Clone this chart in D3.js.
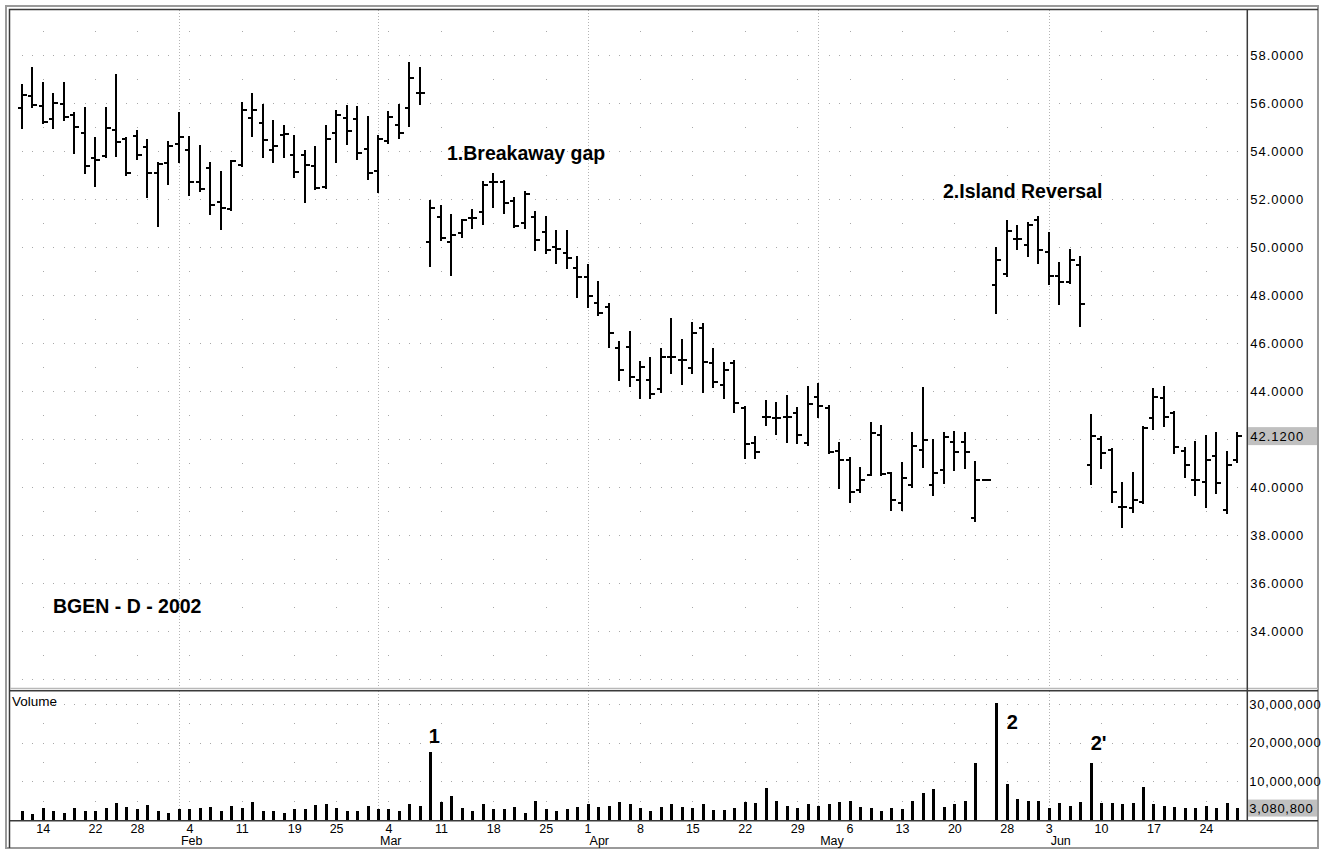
<!DOCTYPE html>
<html><head><meta charset="utf-8">
<script src="https://cdn.jsdelivr.net/npm/d3@7/dist/d3.min.js"></script>
<style>
body{margin:0;background:#fff}
svg{display:block}
text{font-family:"Liberation Sans",Arial,sans-serif;fill:#000}
</style>
</head><body>
<svg id="chart" width="1324" height="850"></svg>
<script>
// ---------- DATA ----------
const dates = [
"01-10","01-11","01-14","01-15","01-16","01-17","01-18","01-22","01-23","01-24","01-25","01-28","01-29","01-30","01-31",
"02-01","02-04","02-05","02-06","02-07","02-08","02-11","02-12","02-13","02-14","02-15","02-19","02-20","02-21","02-22","02-25","02-26","02-27","02-28",
"03-01","03-04","03-05","03-06","03-07","03-08","03-11","03-12","03-13","03-14","03-15","03-18","03-19","03-20","03-21","03-22","03-25","03-26","03-27","03-28",
"04-01","04-02","04-03","04-04","04-05","04-08","04-09","04-10","04-11","04-12","04-15","04-16","04-17","04-18","04-19","04-22","04-23","04-24","04-25","04-26","04-29","04-30",
"05-01","05-02","05-03","05-06","05-07","05-08","05-09","05-10","05-13","05-14","05-15","05-16","05-17","05-20","05-21","05-22","05-23","05-24","05-28","05-29","05-30","05-31",
"06-03","06-04","06-05","06-06","06-07","06-10","06-11","06-12","06-13","06-14","06-17","06-18","06-19","06-20","06-21","06-24","06-25","06-26","06-27"];

const open = [55.78,56.29,55.88,55.32,55.96,55.50,54.76,53.69,53.79,54.88,54.49,54.63,54.18,53.07,53.51,
54.29,54.04,52.72,53.31,51.86,51.57,53.42,55.36,55.15,54.04,54.67,53.83,53.83,53.39,52.51,54.74,55.36,55.32,54.07,
53.18,54.43,55.08,55.78,56.40,50.22,51.24,50.22,50.57,51.20,51.47,52.69,52.72,51.90,51.00,51.26,50.64,50.01,49.76,49.11,
48.76,47.68,47.51,45.78,45.85,44.46,44.46,44.07,45.43,45.29,44.94,46.61,45.18,44.25,45.15,43.30,41.85,42.93,42.86,42.93,43.07,41.82,
43.76,43.28,41.50,41.12,39.87,40.50,42.17,40.57,39.32,40.08,41.54,40.08,40.71,41.89,41.89,38.69,40.29,48.42,48.88,50.32,50.08,51.12,
49.81,48.79,48.56,49.25,40.92,42.00,41.54,39.18,39.11,39.39,42.86,43.69,43.10,41.50,40.29,40.22,41.29,39.04,41.12];

const high = [56.75,57.44,56.82,56.38,56.82,55.57,55.78,54.53,55.78,57.17,54.53,54.85,54.46,53.49,54.39,
55.60,54.60,54.21,53.49,53.11,53.60,55.99,56.36,55.92,55.26,55.04,54.63,54.01,54.18,55.04,55.65,55.88,55.82,55.43,
54.63,55.64,55.92,57.68,57.44,51.92,51.71,51.33,51.13,51.54,52.72,53.04,52.76,52.03,52.28,51.47,51.26,50.68,50.67,49.57,
49.25,48.56,47.63,46.06,46.47,45.22,45.36,45.74,46.99,46.13,46.85,46.79,45.74,45.15,45.26,43.32,42.07,43.60,43.51,43.79,43.28,44.18,
44.29,43.38,41.85,41.19,40.78,42.65,42.54,40.60,40.99,42.24,44.11,41.96,42.26,42.31,42.26,41.06,40.29,49.95,51.10,50.88,51.01,51.26,
50.57,49.35,49.88,49.60,43.00,42.07,41.57,40.15,40.57,42.51,44.07,44.18,43.14,41.61,41.89,42.13,42.24,41.47,42.24];

const low = [54.94,55.85,55.15,54.94,55.29,53.90,53.10,52.56,53.76,53.81,53.00,53.65,52.07,50.88,52.63,
53.53,52.17,52.35,51.38,50.76,51.54,53.38,54.63,53.76,53.53,53.76,52.93,51.89,52.40,52.47,53.53,54.29,53.65,52.83,
52.28,54.35,54.53,55.06,55.96,49.22,50.29,48.83,50.40,50.78,50.96,51.65,51.40,50.85,50.78,49.87,49.76,49.32,49.11,47.93,
47.49,47.17,45.85,44.46,44.21,43.69,43.69,43.97,44.76,44.28,44.76,43.97,44.18,43.69,43.14,41.19,41.19,42.58,42.21,41.89,41.85,41.75,
42.93,41.43,39.94,39.39,39.81,40.50,40.50,39.04,39.04,40.01,40.85,39.67,40.15,40.71,40.78,38.60,40.29,47.24,48.79,49.90,49.63,49.35,
48.46,47.63,48.49,46.71,40.13,40.78,39.39,38.35,38.97,39.32,42.40,42.54,41.40,40.43,39.67,39.18,39.74,38.93,41.06];

const close = [56.33,55.90,55.22,56.01,55.43,54.99,53.39,53.63,54.94,54.39,53.10,53.83,53.07,53.46,54.22,
54.60,52.72,52.40,51.75,51.61,53.60,55.71,55.71,54.46,54.21,54.71,53.14,53.42,52.47,54.49,55.50,54.83,53.90,53.07,
54.49,55.43,54.76,57.06,56.40,51.63,50.36,50.50,51.13,51.20,52.58,52.69,51.85,50.87,52.20,50.29,49.87,49.90,49.53,48.76,
47.97,47.24,46.40,44.88,44.60,44.99,43.86,45.43,45.43,45.29,46.40,45.22,44.39,44.88,43.49,41.80,41.47,42.93,42.86,42.93,42.17,43.46,
43.38,41.47,41.13,39.81,40.29,42.24,40.54,39.46,40.36,41.71,41.96,40.57,42.10,41.47,41.47,40.29,40.29,49.46,50.68,50.32,50.92,49.88,
48.79,48.56,49.46,47.63,42.12,41.40,39.81,39.18,39.46,42.44,43.76,42.93,41.68,40.92,40.29,41.12,40.15,40.92,42.12];

// volume in millions of shares
const volume = [2.33,1.55,3.00,2.33,1.90,3.00,2.33,2.33,3.00,4.30,3.27,2.76,3.88,2.33,1.90,
2.76,2.76,3.00,3.27,2.33,3.62,3.00,4.56,2.33,2.33,1.90,2.76,2.76,3.88,4.05,3.00,2.33,2.33,3.62,
2.76,2.76,2.33,4.05,3.70,17.66,4.74,6.29,3.00,2.33,4.05,2.76,2.76,3.27,1.90,5.00,2.76,2.33,2.76,3.27,
4.05,3.27,3.70,4.65,4.05,3.00,2.33,3.27,4.05,3.27,3.00,4.05,2.58,2.58,3.00,4.74,4.31,8.35,5.00,3.62,3.00,4.05,
3.62,4.05,4.74,5.00,3.27,3.00,2.33,3.00,2.76,5.00,7.06,8.00,3.27,4.05,5.00,14.64,0,30.30,9.30,5.34,5.00,5.00,
3.00,4.31,3.62,4.65,14.64,4.31,4.31,4.05,4.31,8.60,4.05,3.62,3.27,3.00,3.00,3.62,3.00,4.31,3.0808];

const weekTicks = ["01-14","01-22","01-28","02-04","02-11","02-19","02-25","03-04","03-11","03-18","03-25","04-01","04-08","04-15","04-22","04-29","05-06","05-13","05-20","05-28","06-03","06-10","06-17","06-24"];
const monthStarts = ["02-01","03-01","04-01","05-01","06-03"];
const monthNames = ["Feb","Mar","Apr","May","Jun"];
const priceTicks = [58,56,54,52,50,48,46,44,40,38,36,34];
const lastPrice = 42.12;
const volumeTicks = [30,20,10];
const lastVolume = 3.0808;
const annotations = [
  {text:"1.Breakaway gap", x:447, y:160},
  {text:"2.Island Reversal", x:943, y:198},
  {text:"BGEN - D - 2002", x:53, y:613}
];
const volNotes = [{text:"1", date:"03-08", dx:4, y:743},{text:"2", date:"05-24", dx:16, y:729},{text:"2'", date:"06-07", dx:8, y:750}];

// ---------- LAYOUT ----------
const svg = d3.select("#chart");
const L = 10, R = 1247.3, PT = 10, PB = 688, VT = 691, VB = 820.7, RB = 1318, BB = 848;

const x = d3.scalePoint().domain(dates).range([21.7, 1237.3]);
const yP = d3.scaleLinear().domain([31.625, 59.875]).range([PB, PT]);
const yV = d3.scaleLinear().domain([0, 33.33]).range([820, VT]);

svg.append("rect").attr("width",1324).attr("height",850).attr("fill","#fff");

// ---------- GRID ----------
const grid = svg.append("g").attr("fill","#a8a8a8");
const weekX = weekTicks.map(d => x(d));
const denseX = dates.map(d => x(d));
for (let p = 32; p <= 59; p++) {
  const yy = Math.round(yP(p));
  const xs = (p % 2 === 0) ? denseX : weekX;
  grid.selectAll(null).data(xs).enter().append("rect")
    .attr("x", d => Math.round(d)).attr("y", yy).attr("width",1).attr("height",1);
}
for (let v = 5; v <= 30; v += 5) {
  const yy = Math.round(yV(v));
  const xs = (v % 10 === 0) ? denseX : weekX;
  grid.selectAll(null).data(xs).enter().append("rect")
    .attr("x", d => Math.round(d)).attr("y", yy).attr("width",1).attr("height",1);
}
svg.append("g").selectAll("line").data(monthStarts).enter().append("line")
  .attr("x1", d => Math.round(x(d))+0.5).attr("x2", d => Math.round(x(d))+0.5)
  .attr("y1", PT).attr("y2", VB)
  .attr("stroke","#b4b4b4").attr("stroke-dasharray","1,2");

// ---------- PRICE BARS ----------
const bars = svg.append("g").attr("stroke","#000").attr("stroke-width",2)
  .attr("shape-rendering","crispEdges").attr("fill","none");
bars.selectAll("path").data(dates).enter().append("path")
  .attr("d", (d,i) => {
    const xx = Math.round(x(d));
    const h = Math.round(yP(high[i])), l = Math.round(yP(low[i]));
    const o = Math.round(yP(open[i])), c = Math.round(yP(close[i]));
    let s = `M${xx-4},${o}H${xx}M${xx},${c}H${xx+5}`;
    if (l - h >= 1) s += `M${xx},${h-1}V${l+1}`;
    return s;
  });

// ---------- VOLUME BARS ----------
svg.append("g").attr("fill","#000").selectAll("rect").data(dates).enter()
  .filter((d,i) => volume[i] > 0)
  .append("rect")
  .attr("x", d => Math.round(x(d)) - 1)
  .attr("width", 3)
  .attr("y", d => Math.round(yV(volume[dates.indexOf(d)])))
  .attr("height", d => 820 - Math.round(yV(volume[dates.indexOf(d)])));

// ---------- FRAME ----------
const frame = svg.append("g").attr("fill","none");
frame.append("rect").attr("x",6).attr("y",6).attr("width",RB-6).attr("height",BB-6)
  .attr("stroke","#9a9a9a").attr("stroke-width",2);
frame.append("path").attr("d",`M${L-0.5},${BB}V${PT-0.5}H${RB}`)
  .attr("stroke","#3a3a3a").attr("stroke-width",1.5);
frame.append("line").attr("x1",L).attr("x2",RB).attr("y1",PB+0.5).attr("y2",PB+0.5)
  .attr("stroke","#b8b8b8").attr("stroke-width",1.5);
frame.append("line").attr("x1",L).attr("x2",RB).attr("y1",VT-0.3).attr("y2",VT-0.3)
  .attr("stroke","#3a3a3a").attr("stroke-width",1.5);
frame.append("line").attr("x1",L).attr("x2",RB).attr("y1",VB).attr("y2",VB)
  .attr("stroke","#3a3a3a").attr("stroke-width",1.5);
frame.append("line").attr("x1",R).attr("x2",R).attr("y1",PT).attr("y2",VB)
  .attr("stroke","#3a3a3a").attr("stroke-width",1.5);

// ---------- LAST VALUE BOXES ----------
svg.append("rect").attr("x",R+0.7).attr("y",yP(lastPrice)-9).attr("width",RB-R-1.7).attr("height",18).attr("fill","#c0c0c0");
svg.append("rect").attr("x",R+0.7).attr("y",yV(lastVolume)-8.5).attr("width",RB-R-1.7).attr("height",17).attr("fill","#c0c0c0");

// ---------- AXES ----------
const axP = svg.append("g").attr("transform",`translate(${R+1},0)`)
  .call(d3.axisRight(yP).tickValues(priceTicks.concat([lastPrice])).tickSize(0).tickPadding(2)
        .tickFormat(d3.format(".4f")));
const axV = svg.append("g").attr("transform",`translate(${R+1},0)`)
  .call(d3.axisRight(yV).tickValues(volumeTicks.concat([lastVolume])).tickSize(0).tickPadding(1)
        .tickFormat(d => d3.format(",")(Math.round(d*1e6))));
axP.select(".domain").remove();
axV.select(".domain").remove();
axP.selectAll("text").attr("font-family","Liberation Sans, Arial, sans-serif")
  .attr("font-size",13).attr("letter-spacing","1").attr("fill","#000");
axV.selectAll("text").attr("font-family","Liberation Sans, Arial, sans-serif")
  .attr("font-size",13).attr("letter-spacing","0.7").attr("fill","#000");

const axX = svg.append("g").attr("transform",`translate(0,${VB})`)
  .call(d3.axisBottom(x).tickValues(weekTicks).tickSize(0).tickPadding(3)
        .tickFormat(d => String(+d.slice(3))));
axX.select(".domain").remove();
axX.selectAll("text").attr("font-family","Liberation Sans, Arial, sans-serif").attr("font-size",12.5).attr("fill","#000");

svg.append("g").selectAll("text").data(monthStarts).enter().append("text")
  .attr("x", d => x(d) + 2).attr("y", 845)
  .attr("font-size",12.5).text((d,i) => monthNames[i]);

svg.append("text").attr("x",12).attr("y",706).attr("font-size",13.5).text("Volume");

// ---------- ANNOTATIONS ----------
svg.append("g").selectAll("text").data(annotations).enter().append("text")
  .attr("x", d => d.x).attr("y", d => d.y).attr("font-size",19.5).attr("font-weight","bold")
  .text(d => d.text);
svg.append("g").selectAll("text").data(volNotes).enter().append("text")
  .attr("x", d => x(d.date) + d.dx).attr("y", d => d.y)
  .attr("text-anchor","middle")
  .attr("font-size",20).attr("font-weight","bold")
  .text(d => d.text);
</script>
</body></html>
